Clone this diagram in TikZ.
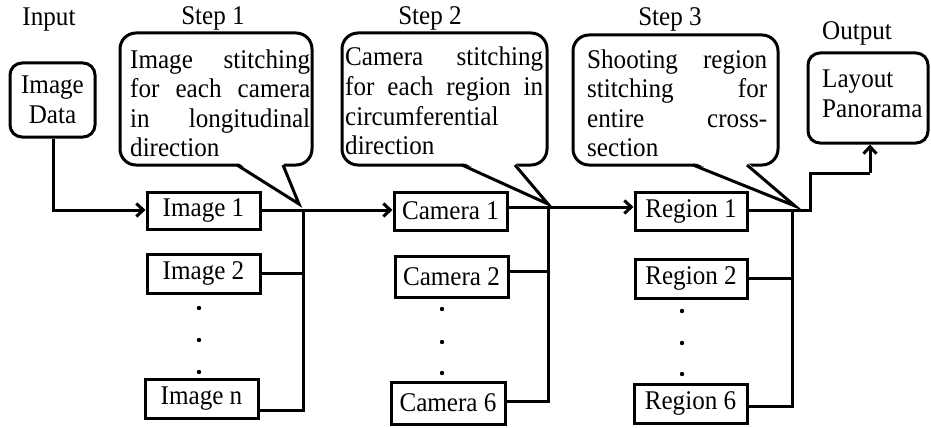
\documentclass[tikz,border=0pt]{standalone}
\usepackage{fontspec}
\setmainfont{Liberation Serif}[FakeStretch=0.93]
\usetikzlibrary{arrows.meta,calc}
\begin{document}
\begin{tikzpicture}[x=1pt,y=-1pt,
  lw/.style={line width=3pt},
  txt/.style={font=\fontsize{27}{29.5}\selectfont, inner sep=0pt},
  stepbox/.style={draw, lw, txt, rectangle, inner sep=0pt},
  roundbox/.style={draw, lw, txt, rectangle, rounded corners=12pt, inner sep=0pt},
  callout/.style={draw, lw, rectangle, rounded corners=16pt, inner sep=0pt},
  ctext/.style={txt, align=left, anchor=base west},
  conn/.style={lw},
  arr/.style={lw, -{Straight Barb[length=7pt,width=13pt]}},
  dotn/.style={circle, fill=black, inner sep=0pt, minimum size=4.4pt}
]
\useasboundingbox (0,0) rectangle (931,428);

% header labels
\node[txt] (lin)  at (49,20)  {Input};
\node[txt] (ls1)  at (213,18) {Step 1};
\node[txt] (ls2)  at (430,18) {Step 2};
\node[txt] (ls3)  at (670,19) {Step 3};
\node[txt] (lout) at (857,33) {Output};

% input / output boxes
\node[roundbox, minimum width=85pt, minimum height=74pt, align=center] (data) at (52.5,100) {Image\\Data};
\node[roundbox, minimum width=120pt, minimum height=90pt] (pano) at (868,98) {};
\node[ctext, text width=104pt] (panot) at (822,88) {Layout\\Panorama};

% callouts
\node[callout, minimum width=192pt, minimum height=132pt] (c1) at (216,99) {};
\node[ctext, text width=180pt] (c1t) at (130,68)
 {Image\hfill stitching\\ for\hfill each\hfill camera\\ in\hfill longitudinal\\ direction};
\node[callout, minimum width=205pt, minimum height=132pt] (c2) at (444.5,99) {};
\node[ctext, text width=198pt] (c2t) at (345,66)
 {Camera\hfill stitching\\ for\hfill each\hfill region\hfill in\\ circumferential\\ direction};
\node[callout, minimum width=205pt, minimum height=130pt] (c3) at (675.5,100) {};
\node[ctext, text width=180pt] (c3t) at (587,68)
 {Shooting\hfill region\\ stitching\hfill for\\ entire\hfill cross-\\ section};

% step boxes
\node[stepbox, minimum width=113pt, minimum height=37pt] (img1) at (203.5,210.5) {Image 1};
\node[stepbox, minimum width=113pt, minimum height=39pt] (img2) at (203.5,273.5) {Image 2};
\node[stepbox, minimum width=113pt, minimum height=39pt] (imgn) at (201.5,398.5) {Image n};
\node[stepbox, minimum width=113pt, minimum height=38pt] (cam1) at (450.5,211) {Camera 1};
\node[stepbox, minimum width=113pt, minimum height=41pt] (cam2) at (451.5,276.5) {Camera 2};
\node[stepbox, minimum width=114pt, minimum height=42pt] (cam6) at (448,403) {Camera 6};
\node[stepbox, minimum width=112pt, minimum height=38pt] (reg1) at (691,211) {Region 1};
\node[stepbox, minimum width=112pt, minimum height=39pt] (reg2) at (691,278.5) {Region 2};
\node[stepbox, minimum width=113pt, minimum height=39pt] (reg6) at (690.5,403.5) {Region 6};

% dots
\node[dotn] (d11) at (199,308) {};
\node[dotn] (d12) at (199,340) {};
\node[dotn] (d13) at (199,372) {};
\node[dotn] (d21) at (442,309) {};
\node[dotn] (d22) at (442,342) {};
\node[dotn] (d23) at (442,373) {};
\node[dotn] (d31) at (682,311) {};
\node[dotn] (d32) at (682,343) {};
\node[dotn] (d33) at (682,374) {};

% callout pointers
\coordinate (t1) at (299,204);
\coordinate (t2) at (548,204);
\coordinate (t3) at (795,206);
\coordinate (p1a) at (237,165); \coordinate (p1b) at (283,165);
\coordinate (p2a) at (462,165); \coordinate (p2b) at (515,165);
\coordinate (p3a) at (693,165); \coordinate (p3b) at (747,165);
\fill[white] ($(p1a)+(0,-3)$) -- (t1) -- ($(p1b)+(0,-3)$) -- cycle;
\fill[white] ($(p2a)+(0,-3)$) -- (t2) -- ($(p2b)+(0,-3)$) -- cycle;
\fill[white] ($(p3a)+(0,-3)$) -- (t3) -- ($(p3b)+(0,-3)$) -- cycle;
\draw[lw, line join=miter] (p1a) -- (t1) -- (p1b);
\draw[lw, line join=miter] (p2a) -- (t2) -- (p2b);
\draw[lw, line join=miter] (p3a) -- (t3) -- (p3b);

% junctions
\coordinate (j1) at (303,210);
\coordinate (b1) at (303,410);
\coordinate (j2) at (548,207);
\coordinate (b2) at (548,401);
\coordinate (j3) at (792,210);
\coordinate (b3) at (792,406);
\coordinate (o1) at (810,210);
\coordinate (o2) at (810,173);
\coordinate (o3) at (870,173);

% connectors
\draw[arr] (data.south -| 53,0) |- (img1.west |- j1);
\draw[arr] (img1.east |- j1) -- (cam1.west |- j1);
\draw[conn] (j1) -- (b1) -- (b1 -| imgn.east);
\draw[conn] (j1 |- img2.east) -- (img2.east);

\draw[arr] (cam1.east |- j2) -- (reg1.west |- j2);
\draw[conn] (j2) -- (b2) -- (b2 -| cam6.east);
\draw[conn] (j2 |- 0,271) -- (cam2.east |- 0,271);

\draw[conn] (reg1.east |- j3) -- (o1) -- (o2) -- (o3);
\draw[arr] (o3) -- (pano.south -| o3);
\draw[conn] (j3) -- (b3) -- (b3 -| reg6.east);
\draw[conn] (j3 |- reg2.east) -- (reg2.east);
\end{tikzpicture}
\end{document}
